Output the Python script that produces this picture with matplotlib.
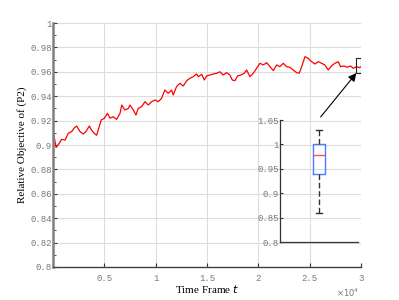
import numpy as np
import matplotlib
matplotlib.use('Agg')
import matplotlib.pyplot as plt
from matplotlib.ticker import FuncFormatter, MultipleLocator
from matplotlib.patches import Rectangle

# time frames (x 1e4) and relative objective
t_1e4 = [0.000, 0.030, 0.050, 0.085, 0.117, 0.149, 0.182, 0.204, 0.230, 0.263,
         0.295, 0.321, 0.354, 0.377, 0.402, 0.425, 0.440, 0.470, 0.500, 0.530,
         0.555, 0.587, 0.620, 0.653, 0.670, 0.700, 0.734, 0.750, 0.782, 0.808,
         0.830, 0.863, 0.896, 0.928, 0.961, 0.993, 1.025, 1.058, 1.090, 1.122,
         1.155, 1.171, 1.204, 1.237, 1.269, 1.302, 1.334, 1.366, 1.399, 1.415,
         1.448, 1.474, 1.497, 1.529, 1.561, 1.594, 1.626, 1.658, 1.691, 1.723,
         1.746, 1.772, 1.798, 1.831, 1.863, 1.886, 1.918, 1.951, 1.983, 2.016,
         2.048, 2.081, 2.113, 2.146, 2.178, 2.210, 2.243, 2.276, 2.308, 2.340,
         2.373, 2.398, 2.422, 2.454, 2.486, 2.519, 2.551, 2.583, 2.616, 2.648,
         2.681, 2.713, 2.746, 2.778, 2.801, 2.834, 2.866, 2.899, 2.924, 2.957,
         2.982, 3.000]
rel_obj = [0.9123, 0.8980, 0.9000, 0.9047, 0.9040, 0.9096, 0.9110, 0.9137, 0.9156, 0.9110,
           0.9090, 0.9110, 0.9156, 0.9120, 0.9096, 0.9080, 0.9120, 0.9205, 0.9219, 0.9260,
           0.9220, 0.9232, 0.9210, 0.9260, 0.9328, 0.9287, 0.9300, 0.9328, 0.9287, 0.9246,
           0.9300, 0.9314, 0.9355, 0.9328, 0.9355, 0.9369, 0.9355, 0.9383, 0.9451, 0.9424,
           0.9450, 0.9410, 0.9480, 0.9506, 0.9484, 0.9527, 0.9547, 0.9560, 0.9582, 0.9560,
           0.9580, 0.9533, 0.9566, 0.9574, 0.9582, 0.9588, 0.9600, 0.9574, 0.9593, 0.9574,
           0.9533, 0.9527, 0.9566, 0.9574, 0.9588, 0.9615, 0.9560, 0.9588, 0.9629, 0.9670,
           0.9656, 0.9675, 0.9642, 0.9610, 0.9656, 0.9642, 0.9670, 0.9642, 0.9637, 0.9615,
           0.9593, 0.9588, 0.9642, 0.9724, 0.9710, 0.9683, 0.9664, 0.9683, 0.9670, 0.9656,
           0.9615, 0.9648, 0.9670, 0.9683, 0.9642, 0.9648, 0.9637, 0.9648, 0.9629, 0.9642,
           0.9634, 0.9642]

# boxplot of the last window
box_med = 0.978
box_q1 = 0.94
box_q3 = 1.0
box_lo = 0.86
box_hi = 1.03

t = np.array(t_1e4) * 1e4

mono = 'Liberation Mono'
serif = 'Liberation Serif'
tick_col = '#777777'

fig = plt.figure(figsize=(3.99, 3.0), dpi=100)
ax = fig.add_axes([0.1328, 0.11, 0.772, 0.8133])

ax.plot(t, rel_obj, color='red', lw=0.9)

ax.set_xlim(0, 30000)
ax.set_ylim(0.8, 1.0)
ax.set_xticks([5000, 10000, 15000, 20000, 25000, 30000])
ax.xaxis.set_major_formatter(FuncFormatter(lambda v, p: '%g' % (v / 1e4)))
ax.set_yticks(np.arange(0.8, 1.001, 0.02))
ax.yaxis.set_major_formatter(FuncFormatter(lambda v, p: '%g' % round(v, 2)))
ax.yaxis.set_minor_locator(MultipleLocator(0.01))
ax.tick_params(direction='in', labelsize=6.5, colors='#333333', labelcolor=tick_col,
               length=3, width=0.8)
ax.tick_params(which='minor', direction='in', length=2, width=0.6, colors='#333333')
for lab in ax.get_xticklabels() + ax.get_yticklabels():
    lab.set_family(mono)
ax.tick_params(axis='x', pad=5)
ax.tick_params(axis='y', pad=1)

ax.grid(True, color='#dddddd', lw=0.8)
ax.set_axisbelow(True)
for s in ['top', 'right']:
    ax.spines[s].set_visible(False)
ax.spines['left'].set_color('#808080')
ax.spines['left'].set_linewidth(1.8)
ax.spines['bottom'].set_color('#404040')
ax.spines['bottom'].set_linewidth(1.0)

ax.set_xlabel('Time Frame $t$', family=serif, fontsize=8, labelpad=0)
ax.set_ylabel('Relative Objective of (P2)', family=serif, fontsize=8, labelpad=2)
ax.text(0.958, -0.107, r'$\times10^4$', transform=ax.transAxes, ha='center', va='center',
        fontsize=6, color=tick_col)

# highlighted window and arrow
ax.add_patch(Rectangle((29470, 0.959), 530, 0.0123, fill=False, ec='#222222', lw=0.8,
                       zorder=5))
ax.annotate('', xy=(29550, 0.959), xytext=(26070, 0.923),
            arrowprops=dict(arrowstyle='-|>', color='black', lw=0.8,
                            mutation_scale=12, shrinkA=0, shrinkB=0))

# inset box plot
ins = fig.add_axes([0.7018, 0.1933, 0.1955, 0.4067])
ins.patch.set_alpha(0)
stats = [dict(med=box_med, q1=box_q1, q3=box_q3, whislo=box_lo, whishi=box_hi)]
ins.bxp(stats, positions=[1], widths=0.16, showfliers=False,
        boxprops=dict(color='#4a7dff', lw=1.0),
        medianprops=dict(color='#ff5050', lw=1.0),
        whiskerprops=dict(color='#333333', lw=1.0, ls=(0, (4, 2))),
        capprops=dict(color='#333333', lw=1.0))
ins.set_xlim(0.5, 1.5)
ins.set_ylim(0.8, 1.05)
ins.set_xticks([])
ins.set_yticks([0.8, 0.85, 0.9, 0.95, 1.0, 1.05])
ins.yaxis.set_major_formatter(FuncFormatter(lambda v, p: '%g' % round(v, 2)))
ins.tick_params(direction='in', labelsize=6.5, colors='#333333', labelcolor=tick_col,
                length=2.5, width=0.8, pad=1)
for lab in ins.get_yticklabels():
    lab.set_family(mono)
for s in ['top', 'right']:
    ins.spines[s].set_visible(False)
ins.spines['left'].set_color('#333333')
ins.spines['bottom'].set_color('#333333')
ins.spines['left'].set_linewidth(0.9)
ins.spines['bottom'].set_linewidth(0.9)

fig.savefig('out.png', dpi=100)
